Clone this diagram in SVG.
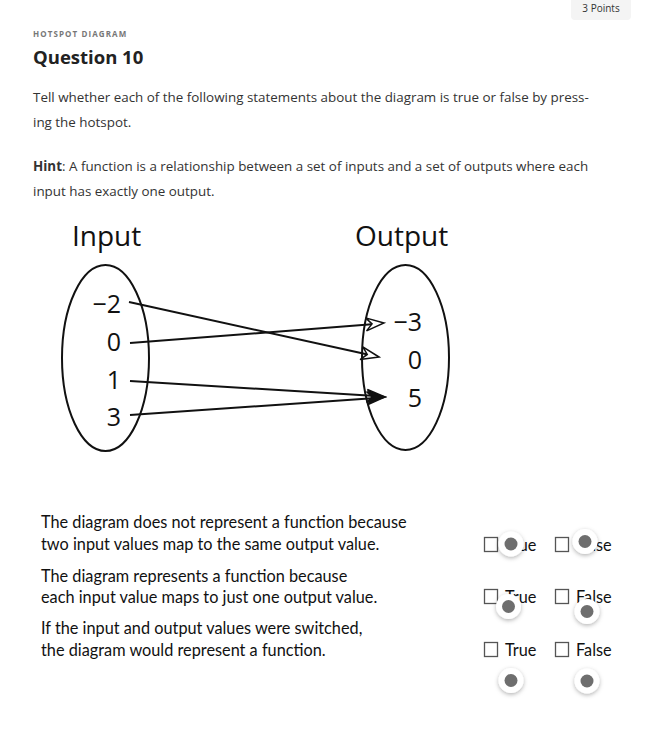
<svg xmlns="http://www.w3.org/2000/svg" width="652" height="741" viewBox="0 0 652 741">
<defs>
<style>
.ui{font-family:"Open Sans","Liberation Sans",sans-serif;fill:#333}
.num{font-family:"Open Sans","Liberation Sans",sans-serif;font-size:25px;fill:#111}
.ttl{font-family:"Open Sans","Liberation Sans",sans-serif;font-size:28px;fill:#111}
.st{font-family:"Lato","Liberation Sans",sans-serif;font-size:16.3px;fill:#111}
.ell{fill:none;stroke:#111;stroke-width:2}
.ln{stroke:#111;stroke-width:2;fill:none}
.box{fill:#fff;stroke:#555;stroke-width:1.3}
.ahO{fill:#fff;stroke:#111;stroke-width:1.5;stroke-linejoin:miter}
.ahF{fill:#111;stroke:#111;stroke-width:1.5}
</style>
<filter id="sh" x="-50%" y="-50%" width="200%" height="200%">
<feDropShadow dx="0" dy="1.5" stdDeviation="2" flood-color="#000" flood-opacity="0.3"/>
</filter>
</defs>
<rect width="652" height="741" fill="#fff"/>

<g id="points">
<rect x="571" y="-4" width="60" height="24" rx="4" fill="#f4f4f4"/>
<text class="ui" x="601" y="12" font-size="10" text-anchor="middle" fill="#444">3 Points</text>
</g>
<g id="header">
<text class="ui" x="33" y="37" font-size="8" font-weight="700" letter-spacing="1.1" style="fill:#777">HOTSPOT DIAGRAM</text>
<text class="ui" x="33" y="64" font-size="18.5" font-weight="700" style="fill:#222">Question 10</text>
<text class="ui" x="33" y="102" font-size="13.4">Tell whether each of the following statements about the diagram is true or false by press-</text>
<text class="ui" x="33" y="127" font-size="13.4">ing the hotspot.</text>
<text class="ui" x="33" y="171" font-size="13.4"><tspan font-weight="700">Hint</tspan>: A function is a relationship between a set of inputs and a set of outputs where each</text>
<text class="ui" x="33" y="196" font-size="13.4">input has exactly one output.</text>
</g>

<g id="input-set">
<text class="ttl" x="72" y="246">Input</text>
<ellipse class="ell" cx="105.5" cy="358" rx="43.5" ry="93"/>
<text class="num" x="121" y="313" text-anchor="end">−2</text>
<text class="num" x="121" y="351" text-anchor="end">0</text>
<text class="num" x="121" y="389" text-anchor="end">1</text>
<text class="num" x="121" y="426" text-anchor="end">3</text>
</g>
<g id="output-set">
<text class="ttl" x="355" y="246">Output</text>
<ellipse class="ell" cx="405.5" cy="357.5" rx="43.5" ry="92.5"/>
<text class="num" x="422" y="331" text-anchor="end">−3</text>
<text class="num" x="422" y="369" text-anchor="end">0</text>
<text class="num" x="422" y="407" text-anchor="end">5</text>
</g>

<g id="connectors">
<line class="ln" x1="129" y1="302" x2="370" y2="355"/>
<line class="ln" x1="130" y1="343" x2="375" y2="324"/>
<line class="ln" x1="130" y1="381" x2="376" y2="396"/>
<line class="ln" x1="130" y1="415" x2="376" y2="398"/>
<path class="ahO" d="M0,0 L-18,-6.5 L-12,0 L-18,6.5 Z" transform="translate(379,357) rotate(12.3)"/>
<path class="ahO" d="M0,0 L-18,-6.5 L-12,0 L-18,6.5 Z" transform="translate(384,323) rotate(-4.4)"/>
<path class="ahF" d="M0,0 L-18,-6.5 L-12,0 L-18,6.5 Z" transform="translate(385,397) rotate(3.5)"/>
<path class="ahF" d="M0,0 L-18,-6.5 L-12,0 L-18,6.5 Z" transform="translate(385,397) rotate(-3.9)"/>
</g>

<g id="statements">
<text class="st" x="41" y="528">The diagram does not represent a function because</text>
<text class="st" x="41" y="550">two input values map to the same output value.</text>
<text class="st" x="41" y="582">The diagram represents a function because</text>
<text class="st" x="41" y="603">each input value maps to just one output value.</text>
<text class="st" x="41" y="634">If the input and output values were switched,</text>
<text class="st" x="41" y="656">the diagram would represent a function.</text>
</g>

<g id="options">
<rect class="box" x="484.5" y="537.5" width="13" height="14"/>
<text class="st" x="505" y="551">True</text>
<rect class="box" x="555.5" y="537.5" width="13" height="14"/>
<text class="st" x="576" y="551">False</text>
<rect class="box" x="484.5" y="589.5" width="13" height="14"/>
<text class="st" x="505" y="603">True</text>
<rect class="box" x="555.5" y="589.5" width="13" height="14"/>
<text class="st" x="576" y="603">False</text>
<rect class="box" x="484.5" y="642.5" width="13" height="14"/>
<text class="st" x="505" y="656">True</text>
<rect class="box" x="555.5" y="642.5" width="13" height="14"/>
<text class="st" x="576" y="656">False</text>
</g>

<g id="hotspots">
<g filter="url(#sh)" fill="#fff">
<circle cx="511" cy="544" r="12.5"/>
<circle cx="585" cy="541.5" r="12.5"/>
<circle cx="508.5" cy="606.5" r="12.5"/>
<circle cx="587" cy="611.5" r="12.5"/>
<circle cx="511" cy="680.5" r="12.5"/>
<circle cx="587" cy="681" r="12.5"/>
</g>
<g fill="#6e6e6e">
<circle cx="511" cy="544" r="6.5"/>
<circle cx="585" cy="541.5" r="6.5"/>
<circle cx="508.5" cy="606.5" r="6.5"/>
<circle cx="587" cy="611.5" r="6.5"/>
<circle cx="511" cy="680.5" r="6.5"/>
<circle cx="587" cy="681" r="6.5"/>
</g>
</g>
</svg>
